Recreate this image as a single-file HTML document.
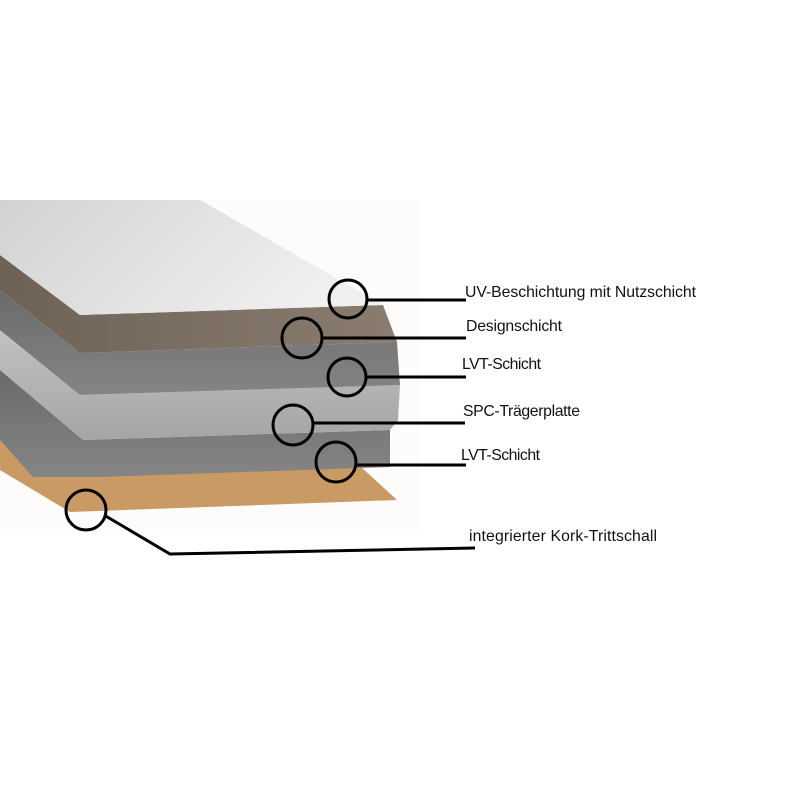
<!DOCTYPE html>
<html><head><style>
body{margin:0;background:#fff;}
svg{display:block}
text{font-family:"Liberation Sans",sans-serif;font-size:15.8px;fill:#111}
</style></head><body>
<svg width="800" height="800" viewBox="0 0 800 800">
<defs>
<linearGradient id="w" x1="0" y1="0" x2="1" y2="0.3"><stop offset="0" stop-color="#d2d2d2"/><stop offset="1" stop-color="#f0f0f0"/></linearGradient>
<linearGradient id="wd" x1="0" y1="0" x2="1" y2="0"><stop offset="0" stop-color="#6e6156"/><stop offset="1" stop-color="#8a7d70"/></linearGradient>
<linearGradient id="g1" x1="0" y1="0" x2="0" y2="1"><stop offset="0" stop-color="#6a6a6a"/><stop offset="1" stop-color="#858585"/></linearGradient>
<linearGradient id="g2" x1="0" y1="0" x2="0" y2="1"><stop offset="0" stop-color="#c4c4c4"/><stop offset="1" stop-color="#a5a5a5"/></linearGradient>
</defs>
<rect x="0" y="200" width="420" height="330" fill="#fdfcfa"/>
<polygon points="0,405 40,440 360,466 397,500 70,512 0,470" fill="#c99a63"/>
<polygon points="0,370 83,440 390,430 390,467 100,477 33,477 0,440" fill="url(#g1)"/>
<polygon points="0,320 80,395 400,385 398,420 390,430 83,440 0,370" fill="url(#g2)"/>
<polygon points="0,290 80,353 397,342 400,385 80,395 0,330" fill="url(#g1)"/>
<polygon points="0,255 80,315 383,305 397,342 80,353 0,290" fill="url(#wd)"/>
<polygon points="0,200 200,200 383,305 80,315 0,255" fill="url(#w)"/>
<g fill="none" stroke="#000" stroke-width="3">
<circle cx="348" cy="299" r="19"/>
<circle cx="302" cy="338" r="20"/>
<circle cx="347" cy="377" r="19"/>
<circle cx="293" cy="425" r="20"/>
<circle cx="336" cy="462" r="20"/>
<circle cx="86" cy="510" r="20"/>
<line x1="367" y1="300" x2="466" y2="300"/>
<line x1="322" y1="338" x2="466" y2="338"/>
<line x1="366" y1="377" x2="466" y2="377"/>
<line x1="313" y1="423" x2="465" y2="423"/>
<line x1="356" y1="465" x2="466" y2="465"/>
<polyline points="104,515 170,554 475,548"/>
</g>
<text x="465" y="297" textLength="231">UV-Beschichtung mit Nutzschicht</text>
<text x="466" y="331" textLength="96">Designschicht</text>
<text x="462" y="369" textLength="79">LVT-Schicht</text>
<text x="463" y="416" textLength="117">SPC-Trägerplatte</text>
<text x="461" y="460" textLength="79">LVT-Schicht</text>
<text x="469" y="541" textLength="188">integrierter Kork-Trittschall</text>
</svg>
</body></html>
